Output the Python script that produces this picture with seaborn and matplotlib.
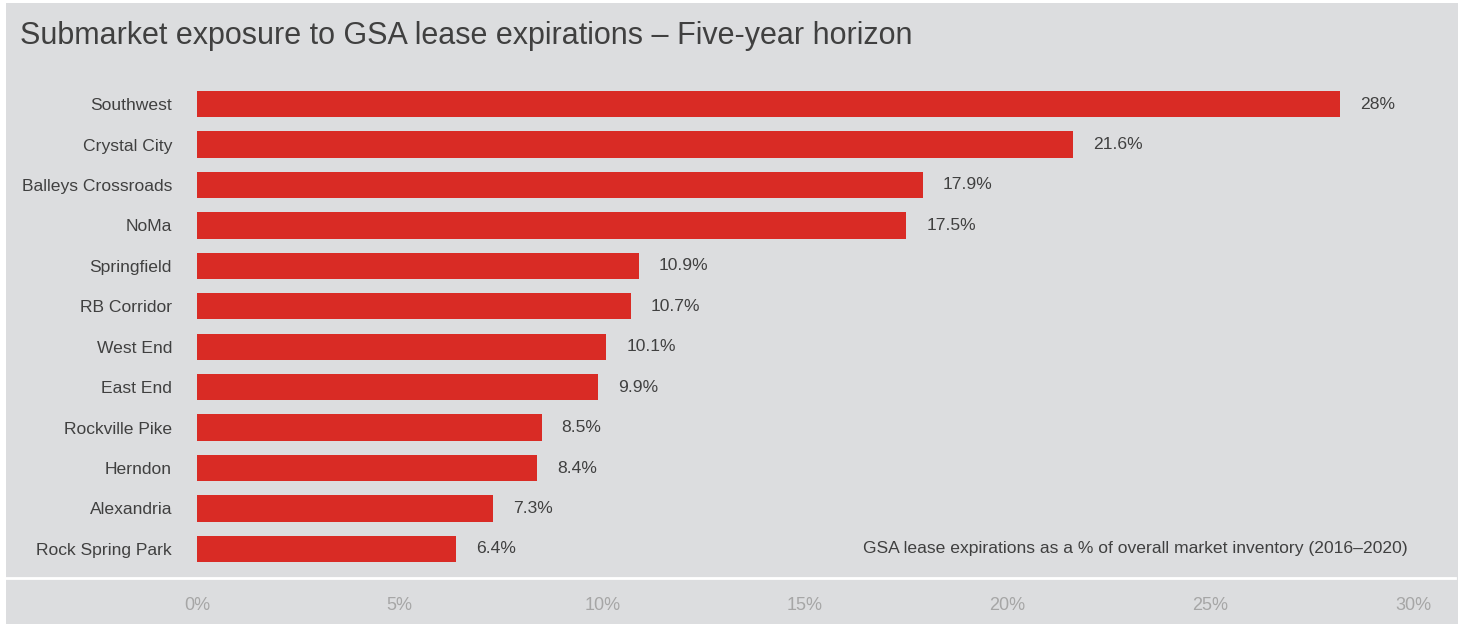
import matplotlib
matplotlib.use("Agg")
from matplotlib import pyplot as plt
from matplotlib.patches import Rectangle
import pandas as pd
import seaborn as sns

# 数据
submarkets = ["Southwest", "Crystal City", "Balleys Crossroads", "NoMa", "Springfield",
              "RB Corridor", "West End", "East End", "Rockville Pike", "Herndon",
              "Alexandria", "Rock Spring Park"]
exposure = [28.2, 21.6, 17.9, 17.5, 10.9, 10.7, 10.1, 9.9, 8.5, 8.4, 7.3, 6.4]
value_labels = ["28%", "21.6%", "17.9%", "17.5%", "10.9%", "10.7%", "10.1%",
                "9.9%", "8.5%", "8.4%", "7.3%", "6.4%"]
x_ticks = [0, 5, 10, 15, 20, 25, 30]
x_tick_labels = ["0%", "5%", "10%", "15%", "20%", "25%", "30%"]

title = "Submarket exposure to GSA lease expirations \u2013 Five-year horizon"
note = "GSA lease expirations as a % of overall market inventory (2016\u20132020)"

bg = "#dcdddf"
red = "#d92b25"
dark = "#404040"
light = "#a6a6a6"

sns.set_theme(style="white")
plt.rcParams["font.family"] = ["Liberation Sans", "DejaVu Sans"]

df = pd.DataFrame({"submarket": submarkets, "exposure": exposure})

W, H = 1458, 624
fig = plt.figure(figsize=(W / 100, H / 100), dpi=100, facecolor="white")
fig.patches.append(Rectangle((6 / W, 0), 1 - 6 / W, 1 - 3 / H, transform=fig.transFigure,
                             facecolor=bg, edgecolor="none", zorder=-5))

ax = fig.add_axes([197 / W, 1 - 578 / H, (1413 - 197) / W, (578 - 75) / H])
ax.set_facecolor("none")

sns.barplot(data=df, x="exposure", y="submarket", color=red, width=0.65,
            saturation=1, linewidth=0, ax=ax)

ax.set_xlim(0, 30)
ax.set_ylim(11.72, -0.72)
ax.set_xticks(x_ticks)
ax.set_xticklabels(x_tick_labels, color=light, fontsize=13)
ax.tick_params(axis="x", length=0, pad=14)
ax.tick_params(axis="y", length=0, pad=18, labelsize=12.6, labelcolor=dark)
ax.set_xlabel("")
ax.set_ylabel("")
for s in ["top", "right", "left"]:
    ax.spines[s].set_visible(False)
ax.spines["bottom"].set_color("white")
ax.spines["bottom"].set_linewidth(2)
ax.spines["bottom"].set_bounds(-4.72, 31.03)

for i, (v, lab) in enumerate(zip(exposure, value_labels)):
    ax.annotate(lab, (v, i), xytext=(14.5, 0), textcoords="offset points",
                va="center", ha="left", fontsize=12.6, color=dark)

ax.text(0.9955, (578 - 549) / (578 - 75), note, transform=ax.transAxes,
        ha="right", va="center", fontsize=12.6, color=dark)

fig.text(20 / W, 1 - 36 / H, title, ha="left", va="center", fontsize=22, color=dark)

fig.savefig("out.png", dpi=100, facecolor="white")
